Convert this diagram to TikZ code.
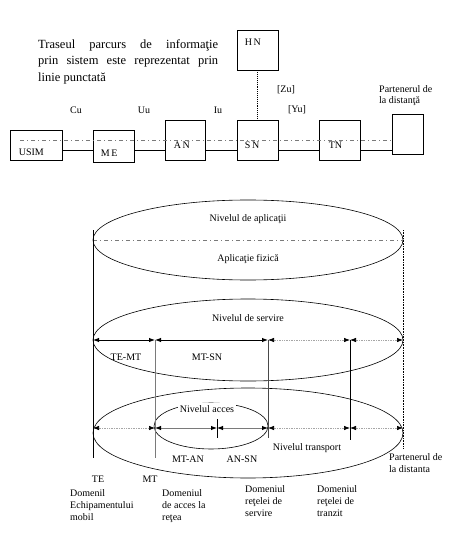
\documentclass[tikz,border=0pt]{standalone}
\usepackage{fontspec}
\setmainfont{Liberation Serif}
\usetikzlibrary{arrows.meta,calc}
\definecolor{lineD}{HTML}{000000}
\definecolor{greyD}{HTML}{7A7A7A}
\definecolor{greyL}{HTML}{A6A6A6}
\tikzset{
  box/.style={draw=lineD, line width=0.7pt, inner sep=0pt},
  boxlab/.style={font=\fontsize{10}{12}\selectfont, inner sep=0pt, anchor=west},
  lab/.style={font=\fontsize{10}{12}\selectfont, inner sep=1pt},
  link/.style={draw=lineD, line width=0.9pt},
  trace/.style={draw=greyD, line width=0.6pt, dash pattern=on 4pt off 3pt on 1pt off 3pt},
  layer/.style={draw=lineD, line width=0.6pt},
  tip/.style={{Latex[length=6pt,width=4.5pt,color=lineD]}-{Latex[length=6pt,width=4.5pt,color=lineD]}},
  span/.style={tip, draw=lineD, line width=0.9pt},
  spang/.style={tip, draw=greyD, line width=0.9pt},
  spand/.style={tip, draw=greyL, line width=0.7pt, densely dotted},
  dom/.style={font=\fontsize{10}{12}\selectfont, align=left, anchor=north west, inner sep=0pt},
}

\begin{document}
\begin{tikzpicture}[x=1pt,y=-1pt]
\useasboundingbox (0,0) rectangle (475,553);
% top: path of the information through the system
\node[anchor=north west, inner sep=0pt, text width=180pt, align=justify,
  font=\fontsize{12.5}{16.5}\selectfont] (note) at (38,39.5)
  {Traseul parcurs de informaţie\linebreak prin sistem este reprezentat prin\linebreak linie punctată};
\node[box, minimum width=52pt, minimum height=30pt] (usim) at (36,145) {};
\node[box, minimum width=41pt, minimum height=32pt] (me) at (113.5,146) {};
\node[box, minimum width=40pt, minimum height=40pt] (an) at (185,140) {};
\node[box, minimum width=41pt, minimum height=40pt] (sn) at (257.5,140) {};
\node[box, minimum width=41pt, minimum height=40pt] (tn) at (339.5,140) {};
\node[box, minimum width=41pt, minimum height=40pt] (hn) at (257.5,50) {};
\node[box, minimum width=31pt, minimum height=40pt] (far) at (407.5,134) {};
\node[boxlab] (usimL) at ($(usim.west)+(9,7)$) {USIM};
\node[boxlab] (meL) at ($(me.west)+(8,7)$) {M\,E};
\node[boxlab] (anL) at ($(an.west)+(9,5.5)$) {A\,N};
\node[boxlab] (snL) at ($(sn.west)+(8,5.5)$) {S\,N};
\node[boxlab] (tnL) at ($(tn.west)+(10,5.5)$) {TN};
\node[boxlab] (hnL) at ($(hn.west)+(8,-8)$) {H\,N};
\coordinate (lnk) at (0,150);
\coordinate (trS) at (20,140);
\draw[link] (usim.east |- lnk) -- (me.west |- lnk);
\draw[link] (me.east |- lnk) -- (an.west |- lnk);
\draw[link] (an.east |- lnk) -- (sn.west |- lnk);
\draw[link] (sn.east |- lnk) -- (tn.west |- lnk);
\draw[link] (tn.east |- lnk) -- (far.west |- lnk);
\draw[trace] (trS) -- (far.west |- trS);
\draw[link, densely dotted] (hn.south) -- (sn.north);
\node[lab] (cu) at (76,110) {Cu};
\node[lab] (uu) at (144,110) {Uu};
\node[lab] (iu) at (218,110) {Iu};
\node[lab] (zu) at (286,90) {[Zu]};
\node[lab] (yu) at (297,110) {[Yu]};
\node[dom, font=\fontsize{10}{11}\selectfont] (farL) at (379,85) {Partenerul de\\la distanţă};
% bottom: levels and domains
\draw[layer] (248,240) ellipse [x radius=155, y radius=40];
\draw[layer] (248,340) ellipse [x radius=155, y radius=41];
\draw[layer] (248,433) ellipse [x radius=155, y radius=45];
\draw[layer] (211,426) ellipse [x radius=57, y radius=23];
\draw[trace] (93,240) -- (403,240);
\node[lab] (app) at (248,219) {Nivelul de aplicaţii};
\node[lab] (fiz) at (248,259) {Aplicaţie fizică};
\node[lab] (serv) at (248,318) {Nivelul de servire};
\node[lab, fill=white, inner sep=2pt] (acc) at (207,409) {Nivelul acces};
\node[lab] (trans) at (307,448) {Nivelul transport};
\coordinate (cTE) at (93,0);
\coordinate (cMT) at (155,0);
\coordinate (cAN) at (217,0);
\coordinate (cSN) at (268,0);
\coordinate (cTN) at (350,0);
\coordinate (cFar) at (403,0);
\coordinate (rS) at (0,340);
\coordinate (rT) at (0,428);
\draw[layer, line width=0.8pt] (cTE |- 0,230) -- (cTE |- 0,458);
\draw[layer, densely dotted, line width=0.8pt] (cFar |- 0,230) -- (cFar |- 0,448);
\draw[layer, draw=greyD, line width=1pt] (cMT |- rS) -- (cMT |- 0,458);
\draw[layer, draw=greyD!60!black, line width=0.9pt] (cSN |- rS) -- (cSN |- 0,438);
\draw[layer, line width=0.8pt] (cTN |- rS) -- (cTN |- 0,440);
\draw[layer, line width=0.8pt] (cAN |- 0,419) -- (cAN |- 0,438);
\draw[span] (cTE |- rS) -- (cMT |- rS);
\draw[span] (cMT |- rS) -- (cSN |- rS);
\draw[spand] (cSN |- rS) -- (cTN |- rS);
\draw[spand] (cTN |- rS) -- (cFar |- rS);
\draw[spand] (cTE |- rT) -- (cMT |- rT);
\draw[spang] (cMT |- rT) -- (cAN |- rT);
\draw[spang] (cAN |- rT) -- (cSN |- rT);
\draw[spand] (cSN |- rT) -- (cTN |- rT);
\draw[spand] (cTN |- rT) -- (cFar |- rT);
\node[lab] (temt) at (126,357) {TE-MT};
\node[lab] (mtsn) at (207,357) {MT-SN};
\node[lab] (mtan) at (188,459) {MT-AN};
\node[lab] (ansn) at (242,459) {AN-SN};
\node[dom] (farB) at (389,453) {Partenerul de\\la distanta};
\node[lab] (te) at (98,479) {TE};
\node[lab] (mt) at (150,479) {MT};
\node[dom] (dME) at (70,489) {Domenil\\Echipamentului\\mobil};
\node[dom] (dAcc) at (162,489) {Domeniul\\de acces la\\reţea};
\node[dom] (dServ) at (245,485) {Domeniul\\reţelei de\\servire};
\node[dom] (dTr) at (317,485) {Domeniul\\reţelei de\\tranzit};
\end{tikzpicture}
\end{document}
